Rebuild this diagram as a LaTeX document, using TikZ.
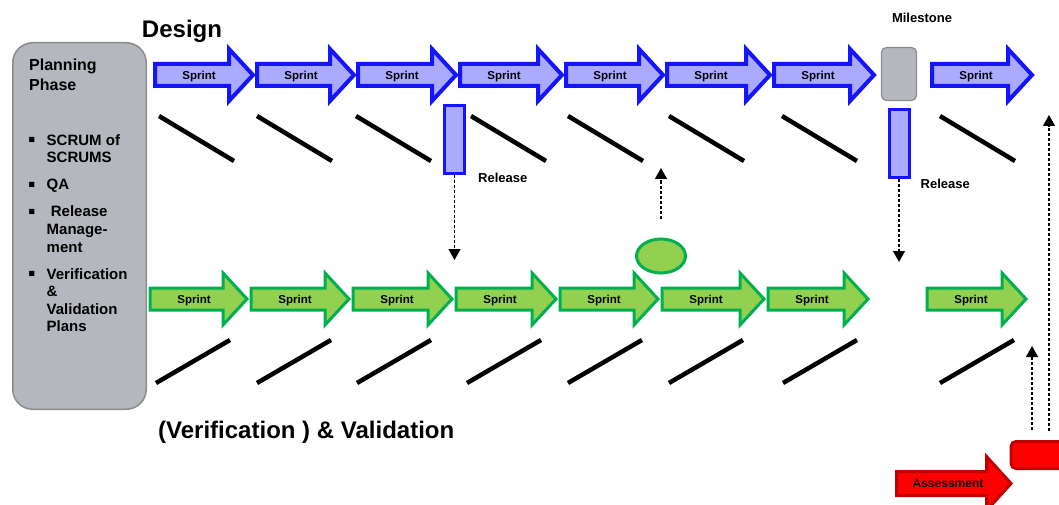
\documentclass[tikz,border=0pt]{standalone}
\usepackage{fontspec}
\setmainfont{Liberation Sans}
\usetikzlibrary{arrows.meta,calc,positioning,shapes.geometric}
\definecolor{sprintBlue}{HTML}{AAABFF}
\definecolor{sprintBlueEdge}{HTML}{1414FF}
\definecolor{sprintGreen}{HTML}{92D050}
\definecolor{sprintGreenEdge}{HTML}{00B050}
\definecolor{phaseGray}{HTML}{B5B7BE}
\definecolor{phaseGrayEdge}{HTML}{8C8C8C}
\definecolor{assessRed}{HTML}{FF0000}
\definecolor{assessRedEdge}{HTML}{C00000}
\tikzset{
  design arrow/.style={draw=sprintBlueEdge, fill=sprintBlue, line width=4pt},
  check arrow/.style={draw=sprintGreenEdge, fill=sprintGreen, line width=3pt},
  assess arrow/.style={draw=assessRedEdge, fill=assessRed, line width=3pt},
  sprint text/.style={font=\bfseries\fontsize{11.5}{13}\selectfont,
    inner sep=0pt, text height=8.2pt, text depth=0pt},
  slash line/.style={line width=4.5pt, black},
  release bar/.style={rectangle, draw=sprintBlueEdge, fill=sprintBlue,
    line width=3pt, minimum width=20pt, minimum height=68pt, inner sep=0pt},
  milestone box/.style={rectangle, draw=phaseGrayEdge, fill=phaseGray,
    line width=1.2pt, rounded corners=5pt, minimum width=35pt,
    minimum height=53pt},
  phase box/.style={rectangle, draw=phaseGrayEdge, fill=phaseGray,
    line width=1.5pt, rounded corners=20pt, minimum width=133.5pt,
    minimum height=366.5pt},
  check point/.style={ellipse, draw=sprintGreenEdge, fill=sprintGreen,
    line width=3pt, minimum width=49pt, minimum height=34pt},
  assess box/.style={rectangle, draw=assessRedEdge, fill=assessRed,
    line width=3pt, rounded corners=5pt, minimum width=60pt,
    minimum height=27pt},
  small label/.style={font=\bfseries\fontsize{13}{15}\selectfont,
    inner sep=0pt, text height=9.3pt, text depth=0pt},
  big label/.style={font=\bfseries\fontsize{24}{28}\selectfont, inner sep=0pt},
  plan list/.style={font=\bfseries\fontsize{15}{17.6}\selectfont,
    inner sep=0pt, anchor=north west},
  handoff/.style={-{Triangle[length=11pt,width=12pt]},
    dash pattern=on 3pt off 2pt, line width=1.1pt}
}
% sprint arrow: style, name, tail x, tip x, centre y
\newcommand{\sprintarrow}[5]{%
  \draw[#1] (#3+2,#5-11) -- (#4-26,#5-11) -- (#4-26,#5-26) -- (#4-2,#5)
    -- (#4-26,#5+26) -- (#4-26,#5+11) -- (#3+2,#5+11) -- cycle;
  \node[sprint text] (#2) at (#3+46,#5) {Sprint};}
\newcommand{\planmark}{\makebox[18.5pt][l]{\raisebox{-1.5pt}{\fontsize{21}{17.6}\selectfont▪}}}

\begin{document}
\begin{tikzpicture}[x=1pt, y=-1pt]
  \useasboundingbox (0,0) rectangle (1059,505);
  \clip (0,0) rectangle (1059,505);

  % planning phase
  \node[phase box] (plan) at (79.5,226) {};
  \node[font=\bfseries\fontsize{16}{20}\selectfont, inner sep=0pt,
    anchor=north west, align=left] (plantitle) at (29,58.3) {Planning\\Phase};
  \node[plan list] (planitems) at (28,132.7) {%
    \begin{tabular}{@{}l@{}l@{}}
      \planmark & SCRUM of\\ & SCRUMS\\[9.4pt]
      \planmark & QA\\[9.4pt]
      \planmark & \ Release\\ & Manage-\\ & ment\\[9.4pt]
      \planmark & Verification\\ & \&\\ & Validation\\ & Plans
    \end{tabular}};

  % design sprints
  \foreach \a/\b [count=\i] in {153/255,255/356,356/458,458/564,564/665,
      665/772,772/876,930/1034}
    \sprintarrow{design arrow}{d\i}{\a}{\b}{75};
  \foreach \x in {158,256,355,470,567,668,781,939}
    \draw[slash line] (\x+1,116) -- ++(75,45);
  \node[big label, anchor=base] (design) at (182,38) {Design};

  % verification and validation sprints
  \foreach \a/\b [count=\i] in {148/249,249/351,351/454,454/558,558/660,
      660/766,766/870,925/1028}
    \sprintarrow{check arrow}{v\i}{\a}{\b}{299};
  \foreach \x in {155,256,356,466,567,668,782,939}
    \draw[slash line] (\x+1,383) -- ++(74,-43);
  \node[big label, anchor=base west] (vv) at (158,438) {(Verification ) \& Validation};

  % milestone and releases
  \node[milestone box] (mile) at (899,74) {};
  \node[small label, anchor=base] (miletext) at (922,22.7) {Milestone};
  \node[release bar] (rel1) at (454.5,139.5) {};
  \node[release bar] (rel2) at (899,143.5) {};
  \node[small label, right=12pt of rel1.south east, yshift=-3pt] (reltext1) {Release};
  \node[small label, right=10pt of rel2.south east, yshift=-5pt] (reltext2) {Release};
  \node[check point] (ell) at (661,256) {};

  % assessment
  \node[assess box] (ab) at (1041,455) {};
  \draw[assess arrow] (896.5,471.5) -- (986.5,471.5) -- (986.5,456.5) -- (1011,483.5)
    -- (986.5,510.5) -- (986.5,495.5) -- (896.5,495.5) -- cycle;
  \node[sprint text, font=\bfseries\fontsize{12}{14}\selectfont, text height=8.6pt]
    (assess) at (948,483.5) {Assessment};

  % hand-offs
  \coordinate (drop1) at (454.5,260);
  \coordinate (drop2) at (899,262);
  \coordinate (upA) at (661,168);
  \coordinate (upB) at (1032,346);
  \coordinate (upC) at (1049,115);
  \draw[handoff] (rel1.south) -- (drop1);
  \draw[handoff] (rel2.south) -- (drop2);
  \draw[handoff, shorten <=19pt] (ell.north) -- (upA);
  \draw[handoff, shorten <=10pt] (ab.north west -| upB) -- (upB);
  \draw[handoff, shorten <=9pt] (ab.north west -| upC) -- (upC);
\end{tikzpicture}
\end{document}
